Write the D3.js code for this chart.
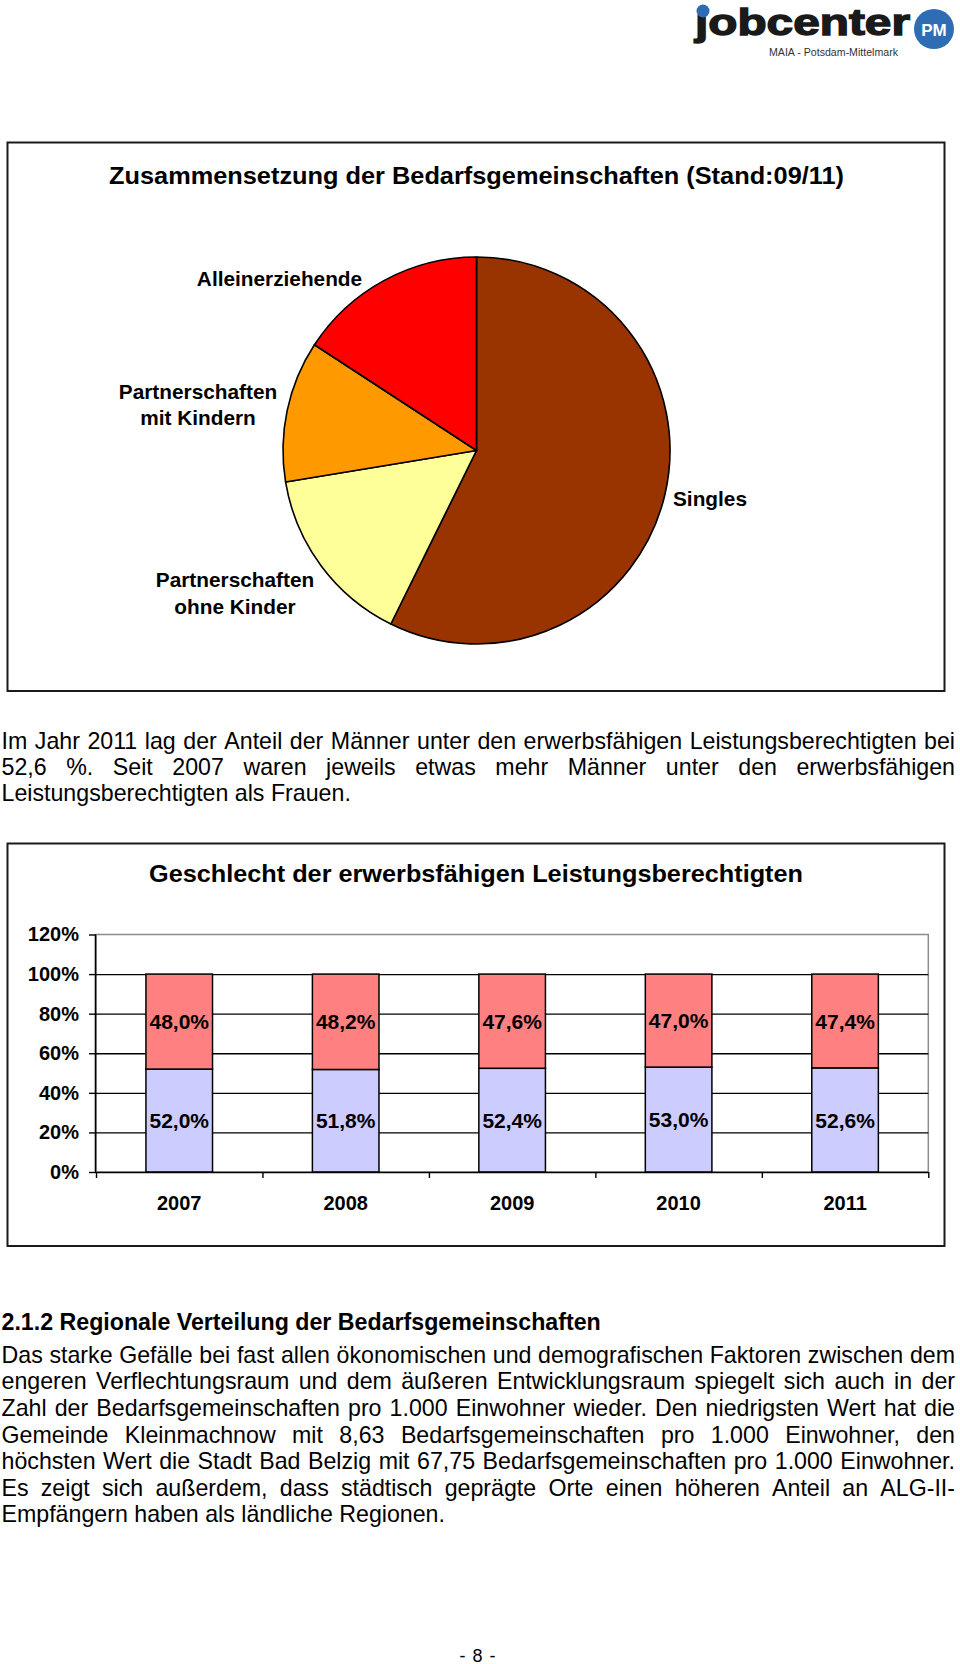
<!DOCTYPE html>
<html>
<head>
<meta charset="utf-8">
<script src="https://cdn.jsdelivr.net/npm/d3@7"></script>
<style>
  html, body { margin: 0; padding: 0; background: #fff; }
  svg { display: block; }
</style>
</head>
<body>
<script>
// ---------------- DATA ----------------
const pieCategories = ["Singles", "Partnerschaften ohne Kinder", "Partnerschaften mit Kindern", "Alleinerziehende"];
const pieValues = [57.3, 15.1, 11.8, 15.8];

const years = ["2007", "2008", "2009", "2010", "2011"];
const maenner = [52.0, 51.8, 52.4, 53.0, 52.6];
const frauen = [48.0, 48.2, 47.6, 47.0, 47.4];
const yTicks = [0, 20, 40, 60, 80, 100, 120];

const pieTitle = "Zusammensetzung der Bedarfsgemeinschaften (Stand:09/11)";
const barTitle = "Geschlecht der erwerbsfähigen Leistungsberechtigten";

const para1 = [
  "Im Jahr 2011 lag der Anteil der Männer unter den erwerbsfähigen Leistungsberechtigten bei",
  "52,6 %. Seit 2007 waren jeweils etwas mehr Männer unter den erwerbsfähigen",
  "Leistungsberechtigten als Frauen."
];
const heading2 = "2.1.2 Regionale Verteilung der Bedarfsgemeinschaften";
const para2 = [
  "Das starke Gefälle bei fast allen ökonomischen und demografischen Faktoren zwischen dem",
  "engeren Verflechtungsraum und dem äußeren Entwicklungsraum spiegelt sich auch in der",
  "Zahl der Bedarfsgemeinschaften pro 1.000 Einwohner wieder. Den niedrigsten Wert hat die",
  "Gemeinde Kleinmachnow mit 8,63 Bedarfsgemeinschaften pro 1.000 Einwohner, den",
  "höchsten Wert die Stadt Bad Belzig mit 67,75 Bedarfsgemeinschaften pro 1.000 Einwohner.",
  "Es zeigt sich außerdem, dass städtisch geprägte Orte einen höheren Anteil an ALG-II-",
  "Empfängern haben als ländliche Regionen."
];

// ---------------- SETUP ----------------
const W = 960, H = 1664;
const FONT = "'Liberation Sans', Arial, Helvetica, sans-serif";
const svg = d3.select("body").append("svg")
  .attr("width", W).attr("height", H)
  .style("font-family", FONT);

svg.append("rect").attr("width", W).attr("height", H).attr("fill", "#fff");

// ---------------- LOGO ----------------
const logo = svg.append("g");
logo.append("text")
  .attr("x", 695).attr("y", 35)
  .attr("font-size", 37).attr("font-weight", "bold")
  .attr("textLength", 215).attr("lengthAdjust", "spacingAndGlyphs")
  .attr("fill", "#1a1a1a").attr("stroke", "#1a1a1a").attr("stroke-width", 1.4)
  .text("\u0237obcenter");
logo.append("circle").attr("cx", 703).attr("cy", 11).attr("r", 6.5).attr("fill", "#2e6db4");
logo.append("circle").attr("cx", 934).attr("cy", 29).attr("r", 20).attr("fill", "#2e6db4");
logo.append("text").attr("x", 934).attr("y", 35.5).attr("text-anchor", "middle")
  .attr("font-size", 17).attr("font-weight", "bold").attr("fill", "#fff").text("PM");
logo.append("text").attr("x", 769).attr("y", 56).attr("font-size", 10.5)
  .attr("textLength", 129).attr("lengthAdjust", "spacingAndGlyphs")
  .attr("fill", "#333").text("MAIA - Potsdam-Mittelmark");

// ---------------- BOXES ----------------
svg.append("rect").attr("x", 7.5).attr("y", 142.5).attr("width", 937).attr("height", 548.5)
  .attr("fill", "none").attr("stroke", "#1a1a1a").attr("stroke-width", 2);
svg.append("rect").attr("x", 7.5).attr("y", 843.5).attr("width", 937).attr("height", 402.5)
  .attr("fill", "none").attr("stroke", "#1a1a1a").attr("stroke-width", 2);

// ---------------- PIE ----------------
svg.append("text").attr("x", 476.5).attr("y", 183.5).attr("text-anchor", "middle")
  .attr("font-size", 24.5).attr("font-weight", "bold").attr("fill", "#000")
  .attr("textLength", 735).attr("lengthAdjust", "spacingAndGlyphs").text(pieTitle);

const pieColor = d3.scaleOrdinal().domain(pieCategories)
  .range(["#993300", "#ffff99", "#ff9900", "#ff0000"]);
const cx = 476.5, cy = 450.5, R = 193.5;
const pie = d3.pie().sort(null).value(d => d)(pieValues);
const arc = d3.arc().innerRadius(0).outerRadius(R);
const pg = svg.append("g").attr("transform", `translate(${cx},${cy})`);
pg.selectAll("path").data(pie).join("path")
  .attr("d", arc)
  .attr("fill", (d, i) => pieColor(pieCategories[i]))
  .attr("stroke", "#000").attr("stroke-width", 1.6).attr("stroke-linejoin", "round");

// pie labels (layout: anchor point + lines)
const pieLabelLayout = {
  "Singles": { x: 673, y: 505.5, anchor: "start", lines: ["Singles"] },
  "Partnerschaften ohne Kinder": { x: 235, y: 587.3, anchor: "middle", lines: ["Partnerschaften", "ohne Kinder"] },
  "Partnerschaften mit Kindern": { x: 198, y: 398.5, anchor: "middle", lines: ["Partnerschaften", "mit Kindern"] },
  "Alleinerziehende": { x: 279.5, y: 286, anchor: "middle", lines: ["Alleinerziehende"] }
};
pieCategories.forEach(c => {
  const L = pieLabelLayout[c];
  const t = svg.append("text").attr("x", L.x).attr("y", L.y)
    .attr("text-anchor", L.anchor).attr("font-size", 20.8).attr("font-weight", "bold").attr("fill", "#000");
  L.lines.forEach((ln, i) => {
    t.append("tspan").attr("x", L.x).attr("dy", i === 0 ? 0 : 26.7).text(ln);
  });
});

// ---------------- TEXT HELPERS ----------------
function textLine(str, x, y, width, justify, size, weight) {
  const g = svg.append("text").attr("x", x).attr("y", y)
    .attr("font-size", size).attr("font-weight", weight || "normal").attr("fill", "#000");
  if (!justify) { g.text(str); return; }
  const words = str.split(" ");
  const meas = svg.append("text").attr("font-size", size).attr("font-weight", weight || "normal");
  const widths = words.map(w => { meas.text(w); return meas.node().getComputedTextLength(); });
  meas.remove();
  const total = d3.sum(widths);
  const gap = (width - total) / (words.length - 1);
  let cur = x;
  words.forEach((w, i) => {
    g.append("tspan").attr("x", cur).text(w);
    cur += widths[i] + gap;
  });
}

const TX = 1.5, TW = 953.5, FS = 23.2;
para1.forEach((l, i) => textLine(l, TX, 749.3 + i * 25.8, TW, i < para1.length - 1, FS));
textLine(heading2, TX, 1330, TW, false, FS, "bold");
para2.forEach((l, i) => textLine(l, TX, 1362.7 + i * 26.6, TW, i < para2.length - 1, FS));

svg.append("text").attr("x", 477.5).attr("y", 1661.5).attr("text-anchor", "middle")
  .attr("font-size", 18).attr("fill", "#000")
  .attr("textLength", 36).attr("lengthAdjust", "spacing").text("- 8 -");

// ---------------- BAR CHART ----------------
svg.append("text").attr("x", 476).attr("y", 881.5).attr("text-anchor", "middle")
  .attr("font-size", 24.5).attr("font-weight", "bold").attr("fill", "#000")
  .attr("textLength", 654).attr("lengthAdjust", "spacingAndGlyphs").text(barTitle);

const X0 = 96, X1 = 928.3, Y0 = 1172, Y1 = 934.5;
const x = d3.scaleBand().domain(years).range([X0, X1]).paddingInner(0.6).paddingOuter(0.3);
const y = d3.scaleLinear().domain([0, 120]).range([Y0, Y1]);

// plot area border (gray)
svg.append("rect").attr("x", X0).attr("y", Y1).attr("width", X1 - X0).attr("height", Y0 - Y1)
  .attr("fill", "none").attr("stroke", "#8c8c8c").attr("stroke-width", 1.5);

// gridlines
const grid = svg.append("g").attr("transform", `translate(${X0},0)`)
  .call(d3.axisLeft(y).tickValues(yTicks.filter(v => v > 0 && v < 120)).tickSize(-(X1 - X0)).tickFormat(""));
grid.select(".domain").remove();
grid.selectAll("line").attr("stroke", "#000").attr("stroke-width", 1.4);

// stacked bars
const table = years.map((yr, i) => ({ year: yr, "Männer": maenner[i], "Frauen": frauen[i] }));
const keys = ["Männer", "Frauen"];
const barColor = d3.scaleOrdinal().domain(keys).range(["#ccccff", "#ff8080"]);
const stacked = d3.stack().keys(keys)(table);
const fmt = v => d3.format(".1f")(v).replace(".", ",") + "%";

stacked.forEach(layer => {
  const lg = svg.append("g");
  lg.selectAll("rect").data(layer).join("rect")
    .attr("x", d => x(d.data.year))
    .attr("y", d => y(d[1]))
    .attr("width", x.bandwidth())
    .attr("height", d => y(d[0]) - y(d[1]))
    .attr("fill", barColor(layer.key))
    .attr("stroke", "#000").attr("stroke-width", 1.5);
});
stacked.forEach(layer => {
  svg.append("g").selectAll("text").data(layer).join("text")
    .attr("x", d => x(d.data.year) + x.bandwidth() / 2)
    .attr("y", d => y((d[0] + d[1]) / 2))
    .attr("dy", "0.36em")
    .attr("text-anchor", "middle")
    .attr("font-size", 21).attr("font-weight", "bold").attr("fill", "#000")
    .text(d => fmt(d.data[layer.key]));
});

// y axis
const yAxis = svg.append("g").attr("transform", `translate(${X0},0)`)
  .call(d3.axisLeft(y).tickValues(yTicks).tickFormat(d => d + "%").tickSize(7).tickPadding(10).tickSizeOuter(0));
yAxis.select(".domain").attr("stroke", "#000").attr("stroke-width", 1.6)
  .attr("d", `M-0.5,${Y0}V${Y1}`);
yAxis.selectAll(".tick line").attr("stroke", "#000").attr("stroke-width", 1.4);
yAxis.selectAll("text").attr("font-size", 20).attr("font-weight", "bold").attr("fill", "#000")
  .attr("font-family", FONT);

// x axis: category boundary ticks
const xb = d3.scaleLinear().domain([0, years.length]).range([X0, X1]);
const xAxisB = svg.append("g").attr("transform", `translate(0,${Y0})`)
  .call(d3.axisBottom(xb).tickValues(d3.range(years.length + 1)).tickSize(6).tickSizeOuter(0).tickFormat(""));
xAxisB.select(".domain").attr("stroke", "#000").attr("stroke-width", 1.6);
xAxisB.selectAll(".tick line").attr("stroke", "#000").attr("stroke-width", 1.4);

// x axis labels
const xAxisL = svg.append("g").attr("transform", `translate(0,${Y0})`)
  .call(d3.axisBottom(x).tickSize(0).tickPadding(24));
xAxisL.select(".domain").remove();
xAxisL.selectAll("text").attr("font-size", 20).attr("font-weight", "bold").attr("fill", "#000")
  .attr("font-family", FONT);
</script>
</body>
</html>
